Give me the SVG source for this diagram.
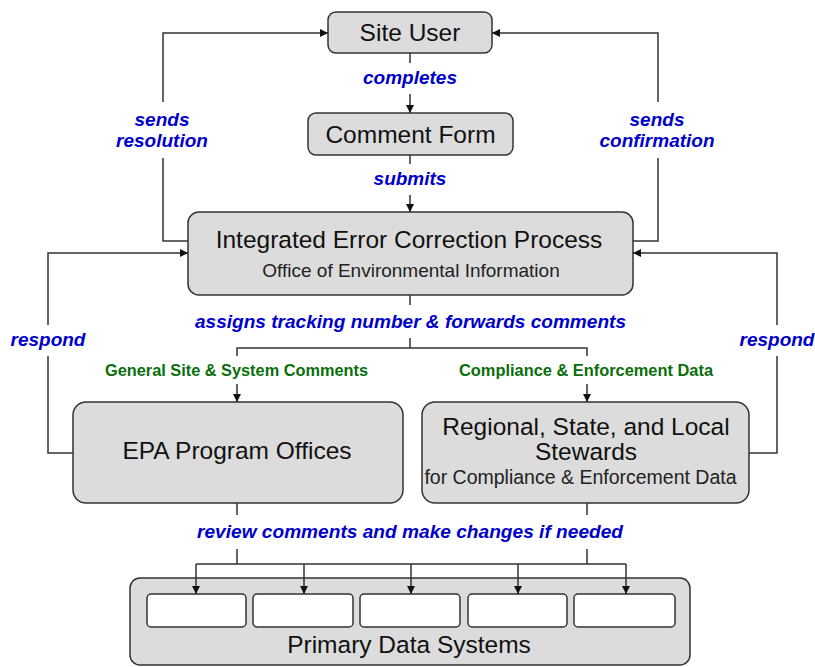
<svg xmlns="http://www.w3.org/2000/svg" width="815" height="667" viewBox="0 0 815 667">
<defs>
<marker id="ah" markerUnits="userSpaceOnUse" markerWidth="10" markerHeight="10" refX="8" refY="4" orient="auto" overflow="visible">
<path d="M0,0 L8,4 L0,8 z" fill="#111"/>
</marker>
<style>
.box{fill:#dcdcdc;stroke:#333;stroke-width:1.5}
.ibox{fill:#fff;stroke:#333;stroke-width:1.5}
.ln{fill:none;stroke:#333;stroke-width:1.5}
.ar{fill:none;stroke:#333;stroke-width:1.5;marker-end:url(#ah)}
.t{font-family:"Liberation Sans",Arial,sans-serif;font-size:24.5px;fill:#111;text-anchor:middle}
.s{font-family:"Liberation Sans",Arial,sans-serif;font-size:19px;fill:#222;text-anchor:middle}
.b{font-family:"Liberation Sans",Arial,sans-serif;font-size:19px;font-weight:bold;font-style:italic;fill:#0000cc;text-anchor:middle}
.g{font-family:"Liberation Sans",Arial,sans-serif;font-size:16px;font-weight:bold;fill:#0a6e0a;text-anchor:middle}
</style>
</defs>
<rect width="815" height="667" fill="#fff"/>
<g id="site-user">
<rect class="box" x="328" y="12" width="164" height="41" rx="8"/>
<text class="t" x="410" y="41">Site User</text>
</g>
<g id="comment-form">
<rect class="box" x="308" y="113" width="205" height="42" rx="8"/>
<text class="t" x="410.5" y="143">Comment Form</text>
</g>
<g id="iecp">
<rect class="box" x="188" y="212" width="445" height="83" rx="11"/>
<text class="t" x="409" y="248">Integrated Error Correction Process</text>
<text class="s" x="411" y="277">Office of Environmental Information</text>
</g>
<g id="epa">
<rect class="box" x="73" y="402" width="330" height="101" rx="13"/>
<text class="t" x="237" y="459">EPA Program Offices</text>
</g>
<g id="regional">
<rect class="box" x="422" y="402" width="327" height="101" rx="13"/>
<text class="t" x="586" y="435">Regional, State, and Local</text>
<text class="t" x="586" y="460">Stewards</text>
<text class="s" x="580.5" y="484" style="font-size:19.5px">for Compliance &amp; Enforcement Data</text>
</g>
<g id="primary-data-systems">
<rect class="box" x="130" y="578" width="560" height="87" rx="10"/>
<rect class="ibox" x="147" y="594" width="99" height="33" rx="4"/>
<rect class="ibox" x="253" y="594" width="100" height="33" rx="4"/>
<rect class="ibox" x="360" y="594" width="100" height="33" rx="4"/>
<rect class="ibox" x="468" y="594" width="99" height="33" rx="4"/>
<rect class="ibox" x="574" y="594" width="101" height="33" rx="4"/>
<text class="t" x="409" y="653">Primary Data Systems</text>
</g>
<g id="connectors">
<path class="ln" d="M410,53 V63"/>
<path class="ar" d="M410,94 V113"/>
<path class="ln" d="M410,155 V164"/>
<path class="ar" d="M410,195 V212"/>
<path class="ln" d="M188,241 H163 V158"/>
<path class="ar" d="M163,102 V33 H328"/>
<path class="ln" d="M633,241 H658 V158"/>
<path class="ar" d="M658,102 V33 H492"/>
<path class="ln" d="M73,453 H48 V356"/>
<path class="ar" d="M48,325 V253 H188"/>
<path class="ln" d="M749,453 H777 V356"/>
<path class="ar" d="M777,325 V253 H633"/>
<path class="ln" d="M410,295 V305"/>
<path class="ln" d="M410,338 V348 M237,356 V348 H587 V356"/>
<path class="ar" d="M237,384 V402"/>
<path class="ar" d="M587,384 V402"/>
<path class="ln" d="M237,503 V515 M587,503 V515"/>
<path class="ln" d="M237,549 V564 M587,549 V564 M196,564 H626"/>
<path class="ar" d="M196,564 V594"/>
<path class="ar" d="M304,564 V594"/>
<path class="ar" d="M411,564 V594"/>
<path class="ar" d="M518,564 V594"/>
<path class="ar" d="M626,564 V594"/>
</g>
<g id="labels">
<text class="b" x="410" y="84">completes</text>
<text class="b" x="410" y="185">submits</text>
<text class="b" x="162" y="126">sends</text>
<text class="b" x="162" y="147">resolution</text>
<text class="b" x="657" y="126">sends</text>
<text class="b" x="657" y="147">confirmation</text>
<text class="b" x="48" y="346">respond</text>
<text class="b" x="777" y="346">respond</text>
<text class="b" x="410.5" y="328" textLength="431" lengthAdjust="spacingAndGlyphs">assigns tracking number &amp; forwards comments</text>
<text class="g" x="236.5" y="376" textLength="263" lengthAdjust="spacingAndGlyphs">General Site &amp; System Comments</text>
<text class="g" x="586" y="376" textLength="254" lengthAdjust="spacingAndGlyphs">Compliance &amp; Enforcement Data</text>
<text class="b" x="410" y="538" textLength="426" lengthAdjust="spacingAndGlyphs">review comments and make changes if needed</text>
</g>
</svg>
